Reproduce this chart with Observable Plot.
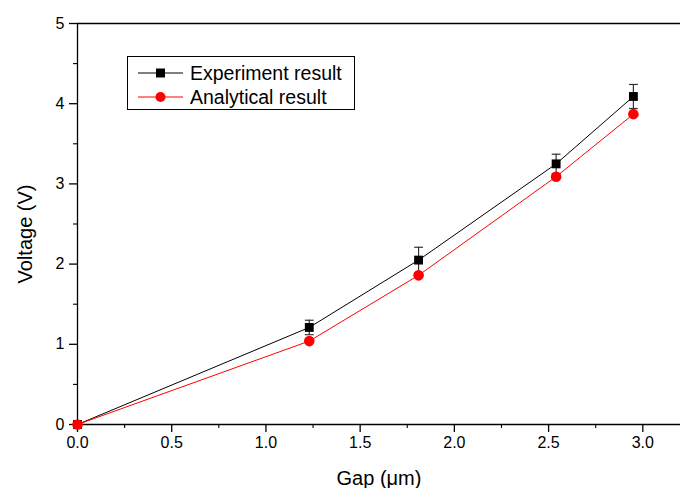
<!DOCTYPE html>
<html>
<head>
<meta charset="utf-8">
<script src="https://cdn.jsdelivr.net/npm/d3@7"></script>
<script src="https://cdn.jsdelivr.net/npm/@observablehq/plot@0.6"></script>
<style>
  html, body { margin: 0; padding: 0; background: #fff; }
  #wrap { position: relative; width: 681px; height: 488px; font-family: "Liberation Sans", Arial, sans-serif; }
  #legend { position: absolute; left: 127px; top: 56px; width: 228px; height: 54px; border: 1px solid #000; background: #fff; box-sizing: border-box; }
  .row { position: absolute; left: 0; height: 22px; display: flex; align-items: center; font-size: 19.5px; color: #000; white-space: nowrap; }
  .row svg { margin-left: 10px; margin-right: 7px; }
</style>
</head>
<body>
<div id="wrap"></div>
<script>
// Data
const gap = [0, 1.23, 1.81, 2.54, 2.95];
const experiment = [0, 1.21, 2.05, 3.25, 4.09];
const experimentErr = [0, 0.09, 0.16, 0.12, 0.15];
const analytical = [0, 1.04, 1.86, 3.09, 3.87];
const xTicks = [0, 0.5, 1.0, 1.5, 2.0, 2.5, 3.0];
const xMinor = [0.25, 0.75, 1.25, 1.75, 2.25, 2.75];
const yTicks = [0, 1, 2, 3, 4, 5];
const yMinor = [0.5, 1.5, 2.5, 3.5, 4.5];
const seriesNames = ["Experiment result", "Analytical result"];
const xLabel = "Gap (μm)";
const yLabel = "Voltage (V)";

const expData = gap.map((g, i) => ({x: g, y: experiment[i], e: experimentErr[i]}));
const anaData = gap.map((g, i) => ({x: g, y: analytical[i]}));
const errData = expData.filter(d => d.e > 0);

const capSymbol = {
  draw(context, size) {
    const w = Math.sqrt(size) / 2;
    context.moveTo(-w, 0);
    context.lineTo(w, 0);
  }
};

const chart = Plot.plot({
  width: 681,
  height: 488,
  marginLeft: 77,
  marginRight: 1,
  marginTop: 23,
  marginBottom: 64,
  style: {fontFamily: "'Liberation Sans', Arial, sans-serif", fontSize: "16px", color: "#000", background: "#fff"},
  x: {domain: [0, 3.2]},
  y: {domain: [0, 5]},
  marks: [
    Plot.axisX({ticks: xTicks, tickFormat: d3.format(".1f"), tickSize: 8, tickPadding: 4, strokeWidth: 1.3, label: null}),
    Plot.axisX(xMinor, {tickSize: 4, strokeWidth: 1.1, fill: "none", label: null}),
    Plot.axisY({ticks: yTicks, tickFormat: d3.format("d"), tickSize: 8, tickPadding: 5, strokeWidth: 1.3, label: null}),
    Plot.axisY(yMinor, {tickSize: 4, strokeWidth: 1.1, fill: "none", label: null}),
    Plot.text([xLabel], {frameAnchor: "bottom", dy: 54, text: d => d, fontSize: 20, lineAnchor: "middle", textAnchor: "middle"}),
    Plot.text([yLabel], {frameAnchor: "left", dx: -52, dy: 10, rotate: -90, text: d => d, fontSize: 20, lineAnchor: "middle", textAnchor: "middle"}),
    Plot.ruleY([0, 5], {stroke: "#000", strokeWidth: 1.3}),
    Plot.ruleX([0], {stroke: "#000", strokeWidth: 1.3}),
    Plot.ruleX(errData, {x: "x", y1: d => d.y - d.e, y2: d => d.y + d.e, stroke: "#333", strokeWidth: 1.2}),
    Plot.dot(errData, {x: "x", y: d => d.y + d.e, symbol: capSymbol, r: 5, stroke: "#333", strokeWidth: 1.2}),
    Plot.dot(errData, {x: "x", y: d => d.y - d.e, symbol: capSymbol, r: 5, stroke: "#333", strokeWidth: 1.2}),
    Plot.line(expData, {x: "x", y: "y", stroke: "#000", strokeWidth: 1}),
    Plot.dot(expData, {x: "x", y: "y", symbol: "square", r: 5, fill: "#000", stroke: "none"}),
    Plot.line(anaData, {x: "x", y: "y", stroke: "#ff0000", strokeWidth: 1}),
    Plot.dot(anaData, {x: "x", y: "y", symbol: "circle", r: 5.3, fill: "#ff0000", stroke: "none"})
  ]
});

const wrap = document.getElementById("wrap");
wrap.appendChild(chart);

// Legend (HTML overlay)
const legend = document.createElement("div");
legend.id = "legend";
legend.innerHTML = `
  <div class="row" style="top:5px">
    <svg width="45" height="12"><line x1="0" y1="6" x2="45" y2="6" stroke="#000" stroke-width="1"/><rect x="18" y="1.5" width="9" height="9" fill="#000"/></svg>
    <span>${seriesNames[0]}</span>
  </div>
  <div class="row" style="top:29px">
    <svg width="45" height="12"><line x1="0" y1="6" x2="45" y2="6" stroke="#ff0000" stroke-width="1"/><circle cx="22.5" cy="6" r="5" fill="#ff0000"/></svg>
    <span>${seriesNames[1]}</span>
  </div>`;
wrap.appendChild(legend);
</script>
</body>
</html>
